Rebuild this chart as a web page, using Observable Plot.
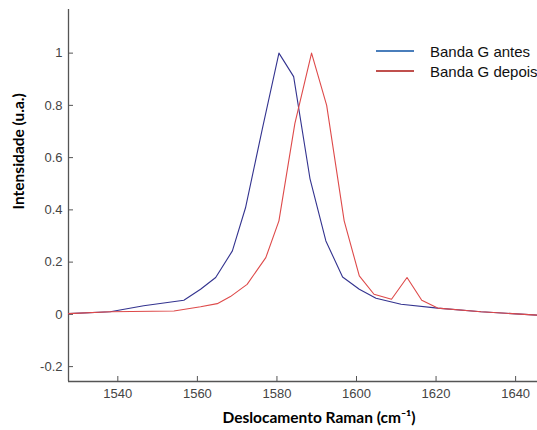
<!DOCTYPE html>
<html><head><meta charset="utf-8">
<script src="https://cdn.jsdelivr.net/npm/d3@7"></script>
<script src="https://cdn.jsdelivr.net/npm/@observablehq/plot@0.6"></script>
<style>
html,body{margin:0;padding:0;background:#fff;}
#wrap{position:relative;width:537px;height:430px;overflow:hidden;}
.leg{position:absolute;left:376px;height:18px;font:15px "Liberation Sans",Arial,sans-serif;color:#111;white-space:nowrap;display:flex;align-items:center;}
.sw{display:inline-block;width:38px;height:2.5px;margin-right:16px;}
</style></head><body><div id="wrap"></div>
<script>
const seriesNames = ["Banda G antes", "Banda G depois"];
const seriesColors = ["#33338f", "#de4a4a"];
const legendColors = ["#4a7ebb", "#c0504d"];
const antesShift = [1527.6,1538.1,1546.5,1556.6,1560.8,1564.6,1568.8,1572.1,1576.3,1580.5,1584.2,1588.3,1592.3,1596.5,1600.7,1604.9,1611.2,1620.4,1631.3,1645.5];
const antesInt   = [0.003,0.010,0.033,0.054,0.096,0.141,0.243,0.408,0.708,1.000,0.910,0.520,0.281,0.143,0.096,0.062,0.039,0.024,0.010,-0.003];
const depoisShift = [1527.6,1538.1,1554.1,1560.8,1565.0,1568.3,1572.5,1577.2,1580.5,1584.5,1588.7,1592.5,1596.9,1600.7,1604.4,1608.8,1612.7,1616.4,1620.4,1631.3,1645.5];
const depoisInt   = [0.003,0.010,0.013,0.029,0.041,0.068,0.115,0.217,0.358,0.730,1.000,0.800,0.358,0.147,0.077,0.058,0.141,0.054,0.024,0.010,-0.003];
const xTicks = [1540,1560,1580,1600,1620,1640];
const yTicks = [-0.2,0,0.2,0.4,0.6,0.8,1];
const xDomain = [1527.6, 1645.5];
const yDomain = [-0.257, 1.167];
const xTitle = "Deslocamento Raman (cm\u207B\u00B9)";
const yTitle = "Intensidade (u.a.)";

const antes = antesShift.map((x, i) => ({x, y: antesInt[i]}));
const depois = depoisShift.map((x, i) => ({x, y: depoisInt[i]}));

const tickFont = "'Liberation Sans', Arial, sans-serif";
const titleFont = "Lato, 'Open Sans', sans-serif";

const chart = Plot.plot({
  width: 537, height: 430,
  marginLeft: 68, marginRight: 0, marginTop: 9, marginBottom: 49,
  style: {background: "#fff", fontFamily: tickFont, overflow: "hidden"},
  x: {domain: xDomain},
  y: {domain: yDomain},
  marks: [
    Plot.ruleX([xDomain[0]], {stroke: "#555", strokeWidth: 1.3}),
    Plot.ruleY([yDomain[0]], {stroke: "#555", strokeWidth: 1.3}),
    Plot.axisX({ticks: xTicks, tickSize: -5, tickPadding: 12, label: null, fontSize: 13, fill: "#444", stroke: "#555", tickFormat: d => String(d)}),
    Plot.axisY({ticks: yTicks, tickSize: -5, tickPadding: 11, label: null, fontSize: 13, fill: "#444", stroke: "#555", tickFormat: d => String(d)}),
    Plot.text([xTitle], {text: d => d, frameAnchor: "bottom", lineAnchor: "middle", dy: 37, dx: 16, fontFamily: titleFont, fontWeight: "bold", fontSize: 15.5, fill: "#000"}),
    Plot.text([yTitle], {text: d => d, frameAnchor: "left", lineAnchor: "middle", rotate: -90, dx: -49, dy: 14, fontFamily: titleFont, fontWeight: "bold", fontSize: 15.5, fill: "#000"}),
    Plot.line(antes, {x: "x", y: "y", stroke: seriesColors[0], strokeWidth: 1.1}),
    Plot.line(depois, {x: "x", y: "y", stroke: seriesColors[1], strokeWidth: 1.1})
  ]
});
const wrap = document.getElementById("wrap");
wrap.appendChild(chart);
const legendTops = [42, 62];
seriesNames.forEach((name, i) => {
  const d = document.createElement("div");
  d.className = "leg";
  d.style.top = legendTops[i] + "px";
  d.innerHTML = `<span class="sw" style="background:${legendColors[i]}"></span><span>${name}</span>`;
  wrap.appendChild(d);
});
</script>
</body></html>
